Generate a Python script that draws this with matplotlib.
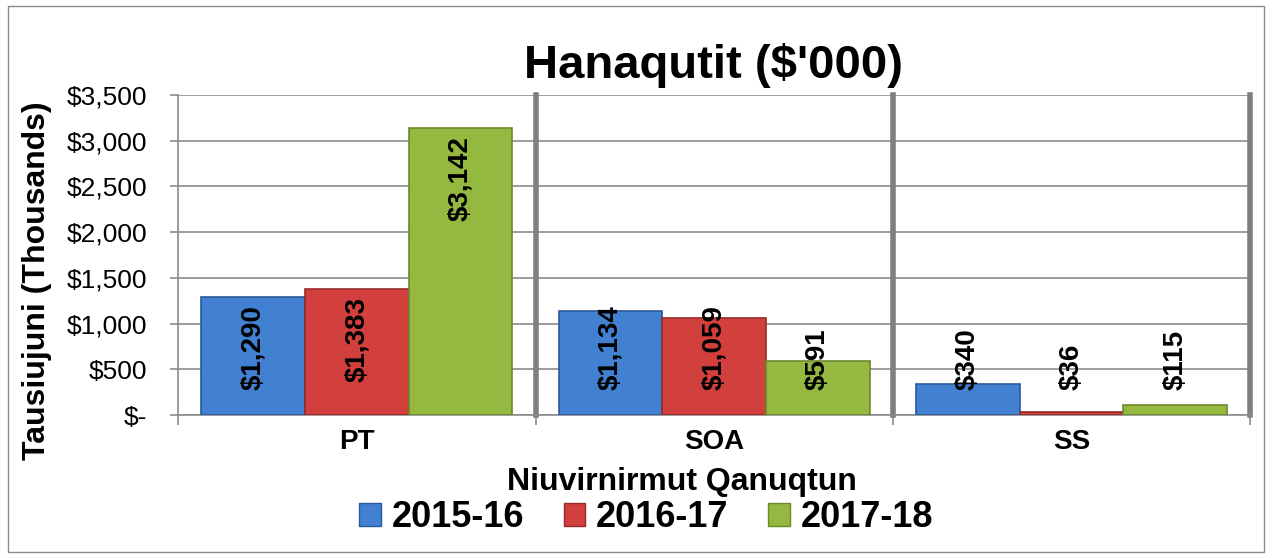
import matplotlib.pyplot as plt
from matplotlib.patches import Rectangle, Patch

categories = ['PT', 'SOA', 'SS']
years = ['2015-16', '2016-17', '2017-18']
v_2015 = [1290, 1134, 340]
v_2016 = [1383, 1059, 36]
v_2017 = [3142, 591, 115]
yticks = [0, 500, 1000, 1500, 2000, 2500, 3000, 3500]

colors = ['#4281d1', '#d2403d', '#95b940']
edges = ['#2a5a9a', '#962b29', '#6a8a2a']

plt.rcParams['font.family'] = ['Liberation Sans', 'DejaVu Sans']

fig = plt.figure(figsize=(12.72, 5.58), dpi=100)
fig.patches.append(Rectangle((0.006, 0.01), 0.988, 0.98, transform=fig.transFigure,
                             fill=False, edgecolor='#8c8c8c', linewidth=1))
ax = fig.add_axes([0.140, 0.256, 0.843, 0.574])

width = 0.29
x = list(range(len(categories)))
for i, (vals, col, ec) in enumerate(zip([v_2015, v_2016, v_2017], colors, edges)):
    xs = [xx + (i - 1) * width for xx in x]
    ax.bar(xs, vals, width, color=col, edgecolor=ec, linewidth=1.2, zorder=3, label=years[i])
    for xx, v in zip(xs, vals):
        txt = '$' + format(v, ',')
        if v - 90 - 1000 > 270:
            ax.text(xx, v - 90, txt, rotation=90, ha='center', va='top',
                    fontsize=20, fontweight='bold', zorder=4)
        else:
            ax.text(xx, 270, txt, rotation=90, ha='center', va='bottom',
                    fontsize=20, fontweight='bold', zorder=4)

ax.set_xlim(-0.5, 2.5)
ax.set_ylim(0, 3500)
ax.set_yticks(yticks)
ax.set_yticklabels(['$-' if t == 0 else '$' + format(t, ',') for t in yticks], fontsize=19)
ax.yaxis.grid(True, color='#8c8c8c', linewidth=1.2, zorder=0)
for sep in [0.5, 1.5, 2.5]:
    ax.axvline(sep, color='#7f7f7f', linewidth=4, zorder=2, clip_on=False)

ax.set_xticks([-0.5, 0.5, 1.5, 2.5], minor=False)
ax.set_xticklabels([])
ax.set_xticks(x, minor=True)
ax.set_xticklabels(categories, minor=True, fontsize=20, fontweight='bold')
ax.tick_params(axis='x', which='minor', length=0, pad=10)
ax.tick_params(axis='x', which='major', length=7, color='#8c8c8c', width=1.2)
ax.tick_params(axis='y', length=6, color='#8c8c8c', width=1.2, pad=16)

for s in ['top', 'right']:
    ax.spines[s].set_visible(False)
ax.spines['left'].set_color('#8c8c8c')
ax.spines['left'].set_linewidth(1.2)
ax.spines['bottom'].set_color('#8c8c8c')
ax.spines['bottom'].set_linewidth(1.2)

ax.set_ylabel('Tausiujuni (Thousands)', fontsize=23, fontweight='bold')
ax.yaxis.set_label_coords(-0.118, 0.42)
fig.text(0.536, 0.136, 'Niuvirnirmut Qanuqtun', ha='center', va='center',
         fontsize=23, fontweight='bold')
fig.text(0.561, 0.883, "Hanaqutit ($'000)", ha='center', va='center',
         fontsize=34, fontweight='bold')

handles = [Patch(facecolor=c, edgecolor=e) for c, e in zip(colors, edges)]
fig.legend(handles, years, loc='center', bbox_to_anchor=(0.508, 0.073), ncol=3,
           frameon=False, prop={'size': 26, 'weight': 'bold'},
           handlelength=0.6, handleheight=0.6, handletextpad=0.3, columnspacing=1.1)

fig.savefig('out.png', dpi=100)
